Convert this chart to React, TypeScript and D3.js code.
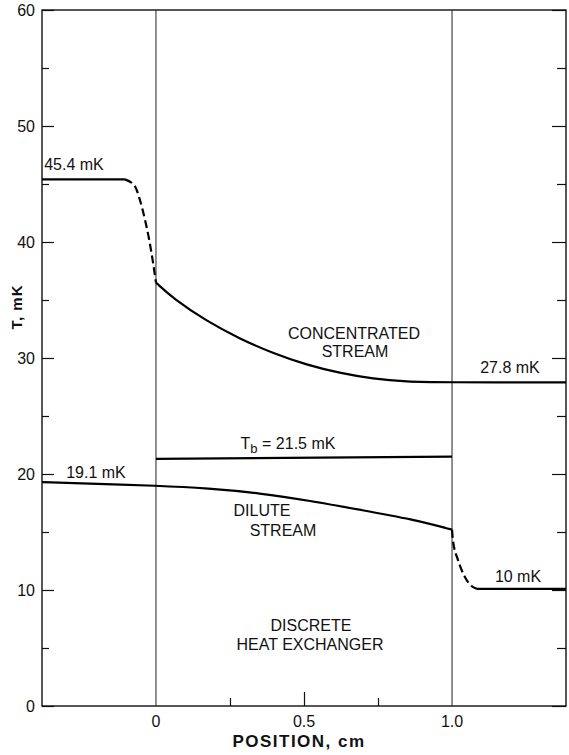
import React, { useEffect, useRef } from "react";
import * as d3 from "d3";

// concentrated stream (mK vs cm)
const concFlatPos = [-0.385, -0.105];
const concFlatT = [45.4, 45.4];
const concDashPos = [-0.105, -0.071, -0.054, -0.037, -0.023, -0.011, 0];
const concDashT = [45.4, 44.8, 43.6, 41.9, 40.2, 38.4, 36.5];
const concPos = [0, 0.06, 0.17, 0.28, 0.395, 0.51, 0.62, 0.733, 0.85, 0.95, 1.385];
const concT = [36.5, 35.1, 33.2, 31.7, 30.4, 29.4, 28.7, 28.2, 27.95, 27.9, 27.9];

// bath temperature
const bathPos = [0, 1.0];
const bathT = [21.3, 21.5];

// dilute stream
const dilPos = [-0.385, -0.2, 0, 0.178, 0.35, 0.52, 0.693, 0.866, 1.0];
const dilT = [19.3, 19.15, 19.0, 18.76, 18.35, 17.7, 16.9, 16.1, 15.2];
const dilDashPos = [1.0, 1.003, 1.02, 1.044, 1.068, 1.084];
const dilDashT = [15.2, 14.3, 12.6, 11.1, 10.3, 10.1];
const dilFlatPos = [1.084, 1.385];
const dilFlatT = [10.1, 10.1];

const yTicks = [0, 10, 20, 30, 40, 50, 60];
const yMinor = [5, 15, 25, 35, 45, 55];
const xLabels = [0, 0.5, 1.0];
const xLabelText = ["0", "0.5", "1.0"];
const xMinor = [0.25, 0.75];

const FONT = "'Liberation Sans', Arial, Helvetica, sans-serif";

export default function App() {
  const ref = useRef<SVGSVGElement>(null);

  useEffect(() => {
    const svg = d3.select(ref.current);
    svg.selectAll("*").remove();

    const left = 42, right = 566, top = 10, bottom = 706;
    const x = d3.scaleLinear().domain([-0.385, 1.385]).range([left, right]);
    const y = d3.scaleLinear().domain([0, 60]).range([bottom, top]);

    const g = svg.append("g");

    // frame
    g.append("rect")
      .attr("x", left).attr("y", top)
      .attr("width", right - left).attr("height", bottom - top)
      .attr("fill", "none").attr("stroke", "#111").attr("stroke-width", 1.4);

    // exchanger boundaries
    [0, 1].forEach((p) => {
      g.append("line")
        .attr("x1", x(p)).attr("x2", x(p))
        .attr("y1", top).attr("y2", bottom)
        .attr("stroke", "#222").attr("stroke-width", 1);
    });

    // left axis ticks (inward)
    const leftAxis = d3.axisRight(y).tickValues(yTicks).tickSize(12).tickFormat(() => "");
    g.append("g").attr("transform", `translate(${left},0)`).call(leftAxis)
      .call((s) => s.select(".domain").remove());
    const leftMinor = d3.axisRight(y).tickValues(yMinor).tickSize(7).tickFormat(() => "");
    g.append("g").attr("transform", `translate(${left},0)`).call(leftMinor)
      .call((s) => s.select(".domain").remove());

    // right axis ticks (inward)
    const rightAxis = d3.axisLeft(y).tickValues(yTicks).tickSize(14).tickFormat(() => "");
    g.append("g").attr("transform", `translate(${right},0)`).call(rightAxis)
      .call((s) => s.select(".domain").remove());
    const rightMinor = d3.axisLeft(y).tickValues(yMinor).tickSize(9).tickFormat(() => "");
    g.append("g").attr("transform", `translate(${right},0)`).call(rightMinor)
      .call((s) => s.select(".domain").remove());

    // bottom ticks (inward)
    const bottomAxis = d3.axisTop(x).tickValues([0.5]).tickSize(14).tickFormat(() => "");
    g.append("g").attr("transform", `translate(0,${bottom})`).call(bottomAxis)
      .call((s) => s.select(".domain").remove());
    const bottomMinor = d3.axisTop(x).tickValues(xMinor).tickSize(8).tickFormat(() => "");
    g.append("g").attr("transform", `translate(0,${bottom})`).call(bottomMinor)
      .call((s) => s.select(".domain").remove());

    g.selectAll(".tick line").attr("stroke", "#111").attr("stroke-width", 1.2);

    // tick labels
    g.append("g").selectAll("text").data(yTicks).join("text")
      .attr("x", left - 7).attr("y", (d) => y(d) + 5.5)
      .attr("text-anchor", "end")
      .attr("font-family", FONT).attr("font-size", 16).attr("fill", "#111")
      .text((d) => String(d));

    g.append("g").selectAll("text").data(xLabels).join("text")
      .attr("x", (d) => x(d)).attr("y", 727)
      .attr("text-anchor", "middle")
      .attr("font-family", FONT).attr("font-size", 16).attr("fill", "#111")
      .text((d, i) => xLabelText[i]);

    // axis titles
    g.append("text")
      .attr("transform", "translate(22,307) rotate(-90)")
      .attr("text-anchor", "middle")
      .attr("font-family", FONT).attr("font-size", 15).attr("font-weight", "bold")
      .attr("letter-spacing", 1).attr("fill", "#111")
      .text("T, mK");
    g.append("text")
      .attr("x", 299).attr("y", 747)
      .attr("text-anchor", "middle")
      .attr("font-family", FONT).attr("font-size", 17).attr("font-weight", "bold")
      .attr("letter-spacing", 1.5).attr("fill", "#111")
      .text("POSITION, cm");

    // curves
    const zip = (a: number[], b: number[]) => a.map((v, i) => [v, b[i]] as [number, number]);
    const mono = d3.line<[number, number]>()
      .x((d) => x(d[0])).y((d) => y(d[1]))
      .curve(d3.curveMonotoneX);
    const smooth = d3.line<[number, number]>()
      .x((d) => x(d[0])).y((d) => y(d[1]))
      .curve(d3.curveBasis);

    const solid: [[number, number][], typeof mono][] = [
      [zip(concFlatPos, concFlatT), mono],
      [zip(concPos, concT), smooth],
      [zip(bathPos, bathT), mono],
      [zip(dilPos, dilT), smooth],
      [zip(dilFlatPos, dilFlatT), mono],
    ];
    const dashed = [zip(concDashPos, concDashT), zip(dilDashPos, dilDashT)];

    g.append("g").selectAll("path").data(solid).join("path")
      .attr("d", (d) => d[1](d[0]))
      .attr("fill", "none").attr("stroke", "#000").attr("stroke-width", 2.2);
    g.append("g").selectAll("path").data(dashed).join("path")
      .attr("d", (d) => mono(d))
      .attr("fill", "none").attr("stroke", "#000").attr("stroke-width", 2.2)
      .attr("stroke-dasharray", "8,4");

    // annotations
    const notes: [string, number, number][] = [
      ["45.4 mK", 74, 170],
      ["CONCENTRATED", 354, 339],
      ["STREAM", 355, 357],
      ["27.8 mK", 510, 373],
      ["19.1 mK", 96, 478],
      ["DILUTE", 262, 516],
      ["STREAM", 283, 536],
      ["10 mK", 518, 582],
      ["DISCRETE", 311, 631],
      ["HEAT EXCHANGER", 310, 650],
    ];
    g.append("g").selectAll("text").data(notes).join("text")
      .attr("x", (d) => d[1]).attr("y", (d) => d[2])
      .attr("text-anchor", "middle")
      .attr("font-family", FONT).attr("font-size", 16).attr("fill", "#111")
      .text((d) => d[0]);

    const tb = g.append("text")
      .attr("x", 288).attr("y", 449)
      .attr("text-anchor", "middle")
      .attr("font-family", FONT).attr("font-size", 16).attr("fill", "#111");
    tb.append("tspan").text("T");
    tb.append("tspan").attr("dy", 4).attr("font-size", 13).text("b");
    tb.append("tspan").attr("dy", -4).text(" = 21.5 mK");
  }, []);

  return (
    <svg
      ref={ref}
      width={569}
      height={755}
      style={{ position: "absolute", left: 0, top: 0, background: "#fff" }}
    />
  );
}
